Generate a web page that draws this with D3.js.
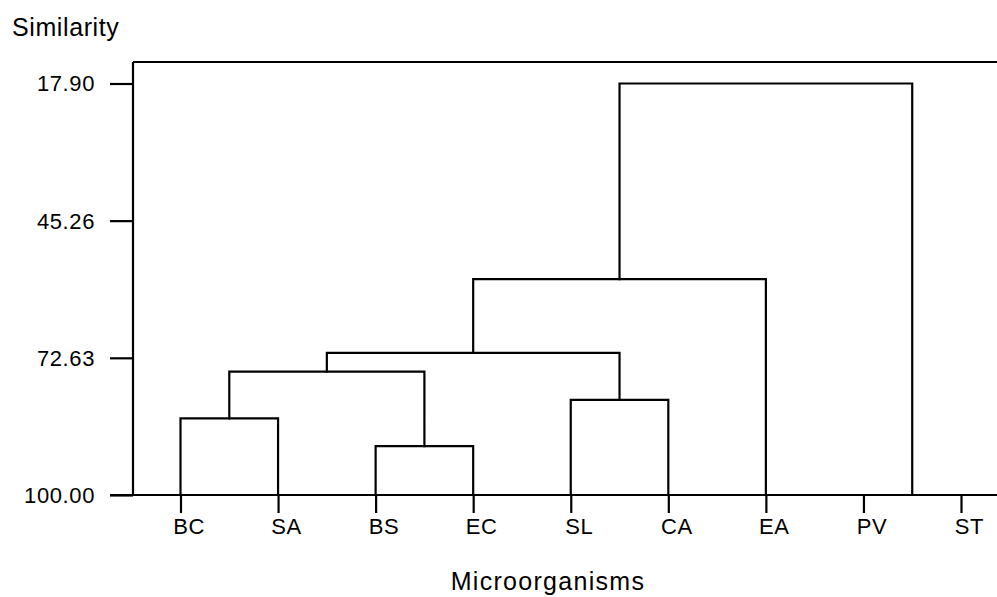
<!DOCTYPE html>
<html>
<head>
<meta charset="utf-8">
<script src="https://cdn.jsdelivr.net/npm/d3@7"></script>
<style>
  html, body { margin: 0; padding: 0; background: #fff; }
  svg { display: block; font-family: "Liberation Sans", Arial, sans-serif; }
</style>
</head>
<body>
<svg id="chart" width="997" height="597"></svg>
<script>
// Leaves (microorganisms) in dendrogram order
const leaves = ["BC", "SA", "BS", "EC", "SL", "CA", "EA", "PV", "ST"];
// Linkage: [childA, childB, similarity]; indices < leaves.length are leaves,
// index leaves.length + k refers to the k-th merge
const linkA = [0, 2, 4, 7, 9, 13, 14, 15];
const linkB = [1, 3, 5, 8, 10, 11, 6, 12];
const linkSim = [84.73, 90.25, 81.01, 100.00, 75.38, 71.65, 56.92, 17.90];
// Axis ticks
const yTicks = [17.90, 45.26, 72.63, 100.00];
const yTitle = "Similarity";
const xTitle = "Microorganisms";

const svg = d3.select("#chart");
const frameLeft = 133, frameTop = 62, frameRight = 997;

const x = d3.scalePoint().domain(leaves).range([180.5, 961]);
const y = d3.scaleLinear().domain([17.90, 100.00]).range([83.5, 495]);
const base = y(100);
const SW = 2.2;

const g = svg.append("g")
  .attr("fill", "none").attr("stroke", "#000").attr("stroke-width", SW);

// frame: top line, left line
g.append("line").attr("x1", frameLeft).attr("x2", frameRight).attr("y1", frameTop).attr("y2", frameTop);
g.append("line").attr("x1", frameLeft).attr("x2", frameLeft).attr("y1", frameTop).attr("y2", base);

// Y axis
const yAxis = svg.append("g")
  .attr("transform", `translate(${frameLeft},0)`)
  .call(d3.axisLeft(y).tickValues(yTicks).tickSize(23).tickPadding(15).tickFormat(d3.format(".2f")));
yAxis.select(".domain").remove();
yAxis.selectAll(".tick line").attr("stroke", "#000").attr("stroke-width", SW);
yAxis.selectAll(".tick text")
  .attr("font-size", 22).attr("fill", "#000")
  .attr("font-family", "Liberation Sans, Arial, sans-serif")
  .attr("letter-spacing", 0.6).attr("dy", "0.34em");

// baseline from tick start to right edge
g.append("line").attr("x1", 110).attr("x2", frameRight).attr("y1", base).attr("y2", base);

// X axis
const xAxis = svg.append("g")
  .attr("transform", `translate(0,${base})`)
  .call(d3.axisBottom(x).tickSize(18).tickPadding(4));
xAxis.select(".domain").remove();
xAxis.selectAll(".tick line").attr("stroke", "#000").attr("stroke-width", SW);
xAxis.selectAll(".tick text")
  .attr("font-size", 22).attr("fill", "#000")
  .attr("font-family", "Liberation Sans, Arial, sans-serif")
  .attr("letter-spacing", 0.6).attr("dx", 8).attr("dy", "0.75em");

// node positions
const nodeX = leaves.map(d => x(d));
const nodeY = leaves.map(() => base);
linkSim.forEach((s, k) => {
  const a = linkA[k], b = linkB[k];
  nodeX.push((nodeX[a] + nodeX[b]) / 2);
  nodeY.push(y(s));
});

// merges
linkSim.forEach((s, k) => {
  const a = linkA[k], b = linkB[k];
  const ym = y(s);
  const p = d3.path();
  p.moveTo(nodeX[a], nodeY[a]);
  p.lineTo(nodeX[a], ym);
  p.lineTo(nodeX[b], ym);
  p.lineTo(nodeX[b], nodeY[b]);
  g.append("path").attr("d", p.toString()).attr("stroke-linejoin", "miter").attr("stroke-linecap", "square");
});

// titles
svg.append("text").attr("x", 12).attr("y", 36)
  .attr("font-size", 25).attr("letter-spacing", 0.6).attr("fill", "#000").text(yTitle);
svg.append("text").attr("x", 548).attr("y", 590).attr("text-anchor", "middle")
  .attr("font-size", 25).attr("letter-spacing", 1.3).attr("fill", "#000").text(xTitle);
</script>
</body>
</html>
